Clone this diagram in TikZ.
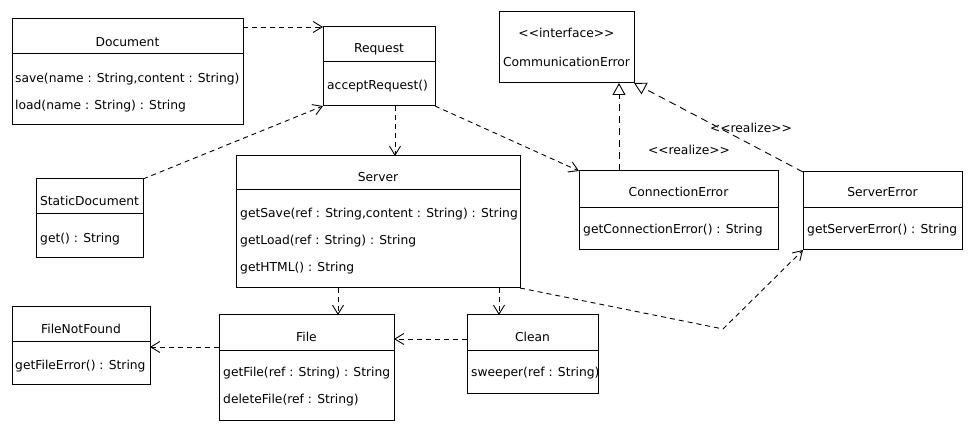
\documentclass[tikz,border=0pt]{standalone}
\usepackage{fontspec}
\setmainfont{DejaVu Sans}
\usetikzlibrary{arrows.meta}
\begin{document}
\begin{tikzpicture}[x=1pt,y=-1pt,
  every node/.style={font=\fontsize{12.3}{14}\selectfont},
  umlbox/.style={draw, line width=1pt, anchor=north west, inner sep=0pt, outer sep=0pt},
  divider/.style={line width=1pt},
  clsname/.style={anchor=base, inner sep=0pt},
  member/.style={anchor=base west, inner sep=0pt},
  dep/.style={line width=0.9pt, dash pattern=on 5pt off 4pt,
    -{Straight Barb[length=9pt,width=11pt,line width=0.9pt]}},
  realize/.style={line width=0.9pt, dash pattern=on 7pt off 5pt,
    -{Triangle[open,length=12pt,width=13pt,line width=0.9pt]}},
  stereo/.style={anchor=base, inner sep=0pt},
]
\useasboundingbox (0,0) rectangle (970,430);

% ---- classes ----
% Document
\node[umlbox, minimum width=231pt, minimum height=106pt] (doc) at (12,19) {};
\draw[divider] ([yshift=-35pt]doc.north west) -- ([yshift=-35pt]doc.north east);
\node[clsname] (docT) at (127.5,47) {Document};
\node[member] (docM1) at (15,83) {save(name : String,content : String)};
\node[member] (docM2) at (15,110) {load(name : String) : String};

% Request
\node[umlbox, minimum width=112pt, minimum height=79pt] (req) at (323,27) {};
\draw[divider] ([yshift=-35pt]req.north west) -- ([yshift=-35pt]req.north east);
\node[clsname] (reqT) at (379,53) {Request};
\node[member] (reqM1) at (327,90) {acceptRequest()};

% CommunicationError (interface)
\node[umlbox, minimum width=135pt, minimum height=71pt] (comm) at (499,12) {};
\node[clsname] (commS) at (566.5,38) {<{}<interface>{}>};
\node[clsname] (commT) at (566.5,67) {CommunicationError};

% StaticDocument
\node[umlbox, minimum width=107pt, minimum height=79pt] (sd) at (36,179) {};
\draw[divider] ([yshift=-35pt]sd.north west) -- ([yshift=-35pt]sd.north east);
\node[clsname] (sdT) at (89.5,206) {StaticDocument};
\node[member] (sdM1) at (40,243) {get() : String};

% Server
\node[umlbox, minimum width=284pt, minimum height=132pt] (srv) at (236,156) {};
\draw[divider] ([yshift=-34pt]srv.north west) -- ([yshift=-34pt]srv.north east);
\node[clsname] (srvT) at (378,182) {Server};
\node[member] (srvM1) at (240,218) {getSave(ref : String,content : String) : String};
\node[member] (srvM2) at (240,245) {getLoad(ref : String) : String};
\node[member] (srvM3) at (240,272) {getHTML() : String};

% ConnectionError
\node[umlbox, minimum width=199pt, minimum height=79pt] (ce) at (579,171) {};
\draw[divider] ([yshift=-37pt]ce.north west) -- ([yshift=-37pt]ce.north east);
\node[clsname] (ceT) at (678.5,197) {ConnectionError};
\node[member] (ceM1) at (583,234) {getConnectionError() : String};

% ServerError
\node[umlbox, minimum width=159pt, minimum height=78pt] (se) at (803,172) {};
\draw[divider] ([yshift=-36pt]se.north west) -- ([yshift=-36pt]se.north east);
\node[clsname] (seT) at (882.5,197) {ServerError};
\node[member] (seM1) at (807,234) {getServerError() : String};

% FileNotFound
\node[umlbox, minimum width=138pt, minimum height=78pt] (fnf) at (12,307) {};
\draw[divider] ([yshift=-35pt]fnf.north west) -- ([yshift=-35pt]fnf.north east);
\node[clsname] (fnfT) at (81,334) {FileNotFound};
\node[member] (fnfM1) at (15,370) {getFileError() : String};

% File
\node[umlbox, minimum width=175pt, minimum height=106pt] (file) at (219,315) {};
\draw[divider] ([yshift=-36pt]file.north west) -- ([yshift=-36pt]file.north east);
\node[clsname] (fileT) at (306.5,342) {File};
\node[member] (fileM1) at (223,377) {getFile(ref : String) : String};
\node[member] (fileM2) at (223,404) {deleteFile(ref : String)};

% Clean
\node[umlbox, minimum width=131pt, minimum height=79pt] (clean) at (467,315) {};
\draw[divider] ([yshift=-36pt]clean.north west) -- ([yshift=-36pt]clean.north east);
\node[clsname] (cleanT) at (532.5,342) {Clean};
\node[member] (cleanM1) at (471,377) {sweeper(ref : String)};

% ---- dependencies ----
\draw[dep] (doc.east |- req.north west) -- (req.north west);
\draw[dep] (sd.north east) -- (req.south west);
\draw[dep] ([xshift=16pt]req.south) -- ([xshift=16pt]req.south |- srv.north);
\draw[dep] (req.south east) -- (ce.north west);
\draw[dep] ([xshift=102pt]srv.south west) -- ([xshift=102pt]srv.south west |- file.north);
\draw[dep] ([xshift=263pt]srv.south west) -- ([xshift=263pt]srv.south west |- clean.north);
\coordinate (bend) at (723,329);
\draw[dep] (srv.south east) -- (bend) -- (se.south west);
\draw[dep] ([yshift=-24pt]clean.north west) -- ([yshift=-24pt]clean.north west -| file.east);
\draw[dep] ([yshift=-32pt]file.north west) -- ([yshift=-32pt]file.north west -| fnf.east);

% ---- realizations ----
\draw[realize] ([xshift=40pt]ce.north west) -- ([xshift=40pt]ce.north west |- comm.south);
\draw[realize] (se.north west) -- (comm.south east);
\node[stereo] (lblA) at (689,155) {<{}<realize>{}>};
\node[stereo] (lblB) at (751,133) {<{}<realize>{}>};
\end{tikzpicture}
\end{document}
